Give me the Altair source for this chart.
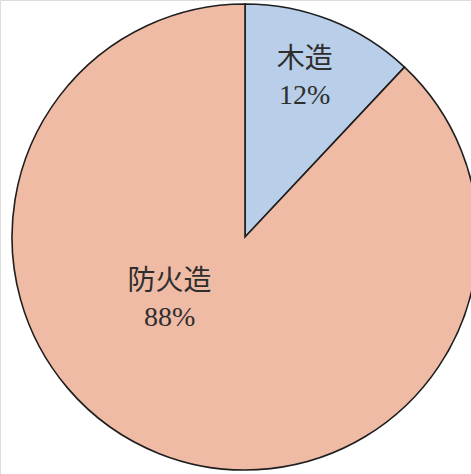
import altair as alt
import pandas as pd

categories = ["木造", "防火造"]
values = [12, 88]
labels = ["木造\n12%", "防火造\n88%"]
colors = ["#b9cee9", "#f0bba5"]

df = pd.DataFrame({"cat": categories, "val": values, "label": labels, "ord": [0, 1]})

CX, CY, R = 245, 237, 233

pie = alt.Chart(df).mark_arc(stroke="#1e1e1e", strokeWidth=1.6, radius=R).encode(
    theta=alt.Theta("val:Q", stack=True),
    order=alt.Order("ord:Q"),
    color=alt.Color("cat:N", scale=alt.Scale(domain=categories, range=colors), legend=None),
    x=alt.value(CX),
    y=alt.value(CY),
)

font = "Liberation Serif, Noto Sans CJK JP"


def label_layer(idx, r, off):
    # label placed from the slice's middle angle (derived from data), r / off are style
    return (
        alt.Chart(df)
        .transform_window(cum="sum(val)", sort=[alt.SortField("ord")])
        .transform_joinaggregate(total="sum(val)")
        .transform_calculate(mid=f"(datum.cum - datum.val/2) / datum.total * 2 * PI + {off}")
        .transform_calculate(
            px=f"{CX} + {r} * sin(datum.mid)",
            py=f"{CY} - {r} * cos(datum.mid)",
        )
        .transform_filter(alt.datum.ord == idx)
        .mark_text(fontSize=28, font=font, color="#2e2e2e", lineBreak="\n", lineHeight=36)
        .encode(
            x=alt.X("px:Q", scale=None, axis=None),
            y=alt.Y("py:Q", scale=None, axis=None),
            text="label:N",
        )
    )


t1 = label_layer(0, 187, -0.052)
t2 = label_layer(1, 88, 0.653)

chart = alt.layer(pie, t1, t2).properties(
    width=471, height=474, padding=0, autosize=alt.AutoSizeParams(type="none")
).configure_view(stroke=None).configure(background="white")

chart.save("out.html", embed_options={"renderer": "svg", "actions": False})
